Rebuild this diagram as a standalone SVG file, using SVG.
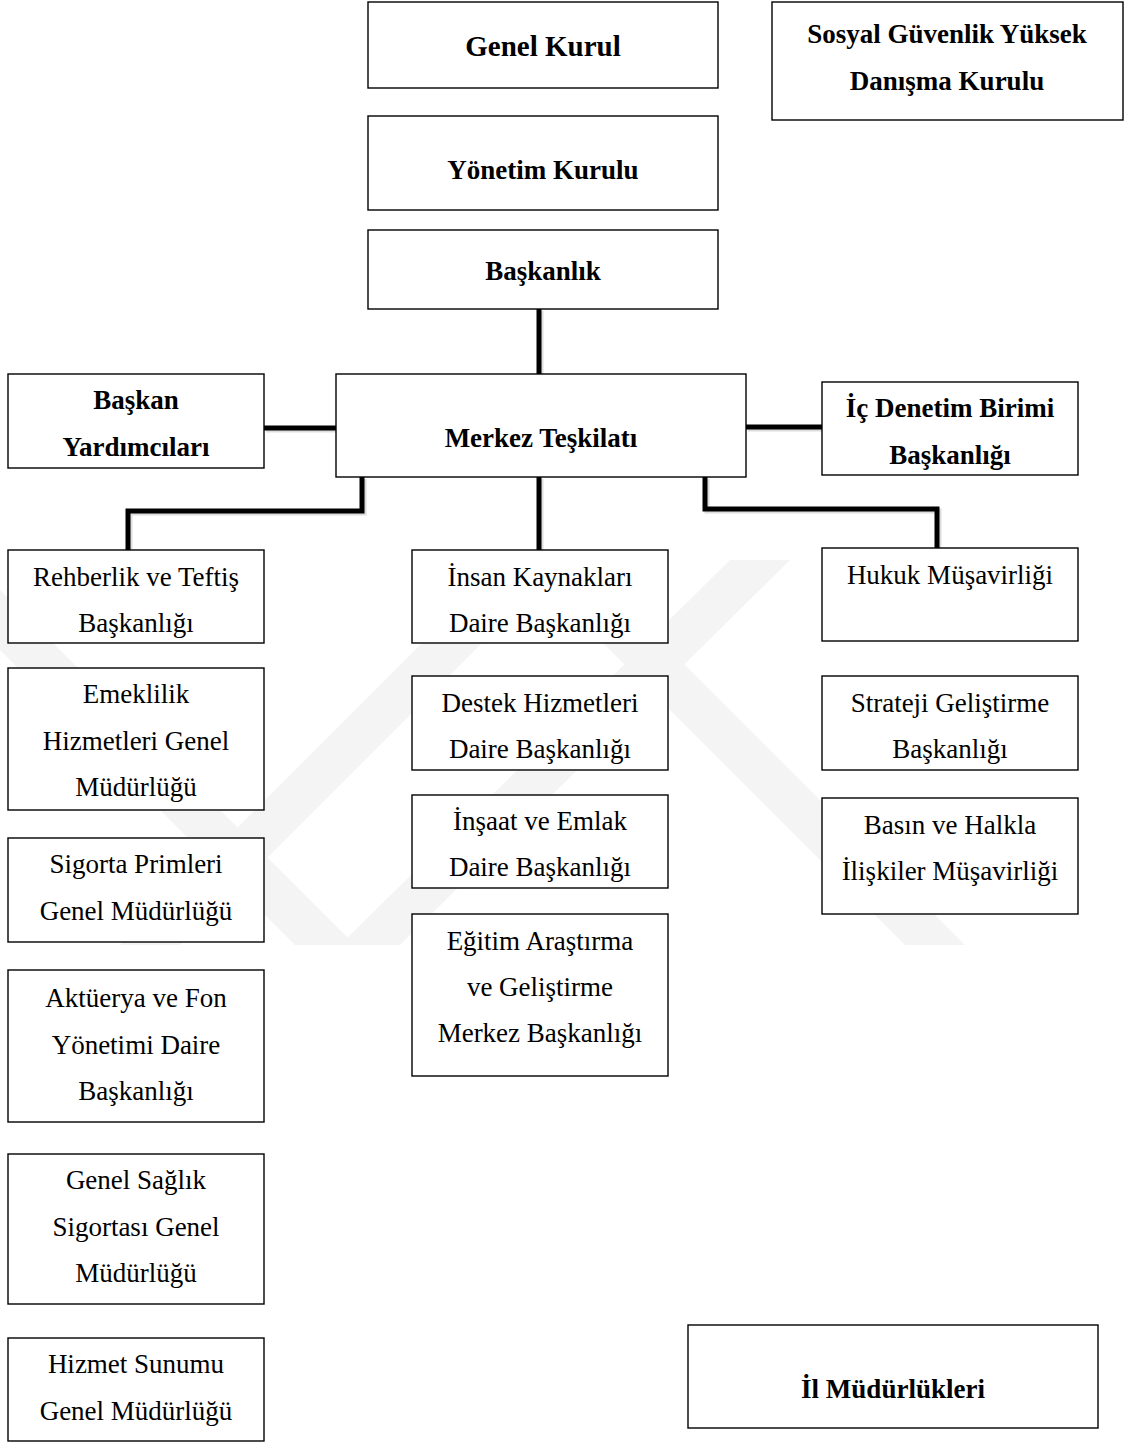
<svg xmlns="http://www.w3.org/2000/svg" width="1125" height="1443" viewBox="0 0 1125 1443">
<style>
.bx{fill:#fff;stroke:#000;stroke-width:1.4}
.t{font-family:"Liberation Serif","Times New Roman",serif;font-size:27px;fill:#000;text-anchor:middle}
.b{font-weight:bold}
.c{fill:none;stroke:#000;stroke-width:5;stroke-linejoin:miter;stroke-linecap:butt}
.cs{fill:none;stroke:#bbb;stroke-width:5;opacity:.5}
.wm{fill:#f4f4f4}
</style>
<rect width="1125" height="1443" fill="#fff"/>
<g id="watermark">
<polygon class="wm" points="120,945 180,945 565,560 505,560"/>
<polygon class="wm" points="340,945 400,945 790,560 730,560"/>
<polygon class="wm" points="0,590 0,650 295,945 355,945"/>
<polygon class="wm" points="560,600 620,600 965,945 905,945"/>
</g>
<g id="connectors">
<path class="cs" d="M541 311V376M266 430H338M748 429H824M364 479V513H130V552M541 479V552M707 479V511H939V550"/>
<path class="c" d="M539 309V374"/>
<path class="c" d="M264 428H336"/>
<path class="c" d="M746 427H822"/>
<path class="c" d="M362 477V511H128V550"/>
<path class="c" d="M539 477V550"/>
<path class="c" d="M705 477V509H937V548"/>
</g>
<g id="genel-kurul"><rect class="bx" x="368" y="2" width="350" height="86"/><text class="t b" x="543" y="56" style="font-size:29px">Genel Kurul</text></g>
<g id="sgydk"><rect class="bx" x="772" y="2" width="351" height="118"/><text class="t b" x="947" y="43">Sosyal Güvenlik Yüksek</text><text class="t b" x="947" y="90">Danışma Kurulu</text></g>
<g id="yonetim-kurulu"><rect class="bx" x="368" y="116" width="350" height="94"/><text class="t b" x="543" y="179">Yönetim Kurulu</text></g>
<g id="baskanlik"><rect class="bx" x="368" y="230" width="350" height="79"/><text class="t b" x="543" y="280">Başkanlık</text></g>
<g id="merkez"><rect class="bx" x="336" y="374" width="410" height="103"/><text class="t b" x="541" y="447">Merkez Teşkilatı</text></g>
<g id="baskan-yard"><rect class="bx" x="8" y="374" width="256" height="94"/><text class="t b" x="136" y="409">Başkan</text><text class="t b" x="136" y="456">Yardımcıları</text></g>
<g id="ic-denetim"><rect class="bx" x="822" y="382" width="256" height="93"/><text class="t b" x="950" y="417">İç Denetim Birimi</text><text class="t b" x="950" y="464">Başkanlığı</text></g>
<g id="rehberlik"><rect class="bx" x="8" y="550" width="256" height="93"/><text class="t" x="136" y="586">Rehberlik ve Teftiş</text><text class="t" x="136" y="632">Başkanlığı</text></g>
<g id="emeklilik"><rect class="bx" x="8" y="668" width="256" height="142"/><text class="t" x="136" y="703">Emeklilik</text><text class="t" x="136" y="750">Hizmetleri Genel</text><text class="t" x="136" y="796">Müdürlüğü</text></g>
<g id="sigorta-primleri"><rect class="bx" x="8" y="838" width="256" height="104"/><text class="t" x="136" y="873">Sigorta Primleri</text><text class="t" x="136" y="920">Genel Müdürlüğü</text></g>
<g id="aktuerya"><rect class="bx" x="8" y="970" width="256" height="152"/><text class="t" x="136" y="1007">Aktüerya ve Fon</text><text class="t" x="136" y="1054">Yönetimi Daire</text><text class="t" x="136" y="1100">Başkanlığı</text></g>
<g id="gss"><rect class="bx" x="8" y="1154" width="256" height="150"/><text class="t" x="136" y="1189">Genel Sağlık</text><text class="t" x="136" y="1236">Sigortası Genel</text><text class="t" x="136" y="1282">Müdürlüğü</text></g>
<g id="hizmet-sunumu"><rect class="bx" x="8" y="1338" width="256" height="103"/><text class="t" x="136" y="1373">Hizmet Sunumu</text><text class="t" x="136" y="1420">Genel Müdürlüğü</text></g>
<g id="insan-kaynaklari"><rect class="bx" x="412" y="550" width="256" height="93"/><text class="t" x="540" y="586">İnsan Kaynakları</text><text class="t" x="540" y="632">Daire Başkanlığı</text></g>
<g id="destek"><rect class="bx" x="412" y="676" width="256" height="94"/><text class="t" x="540" y="712">Destek Hizmetleri</text><text class="t" x="540" y="758">Daire Başkanlığı</text></g>
<g id="insaat"><rect class="bx" x="412" y="795" width="256" height="93"/><text class="t" x="540" y="830">İnşaat ve Emlak</text><text class="t" x="540" y="876">Daire Başkanlığı</text></g>
<g id="egitim"><rect class="bx" x="412" y="914" width="256" height="162"/><text class="t" x="540" y="950">Eğitim Araştırma</text><text class="t" x="540" y="996">ve Geliştirme</text><text class="t" x="540" y="1042">Merkez Başkanlığı</text></g>
<g id="hukuk"><rect class="bx" x="822" y="548" width="256" height="93"/><text class="t" x="950" y="584">Hukuk Müşavirliği</text></g>
<g id="strateji"><rect class="bx" x="822" y="676" width="256" height="94"/><text class="t" x="950" y="712">Strateji Geliştirme</text><text class="t" x="950" y="758">Başkanlığı</text></g>
<g id="basin"><rect class="bx" x="822" y="798" width="256" height="116"/><text class="t" x="950" y="834">Basın ve Halkla</text><text class="t" x="950" y="880">İlişkiler Müşavirliği</text></g>
<g id="il-mudurlukleri"><rect class="bx" x="688" y="1325" width="410" height="103"/><text class="t b" x="893" y="1398">İl Müdürlükleri</text></g>
</svg>
